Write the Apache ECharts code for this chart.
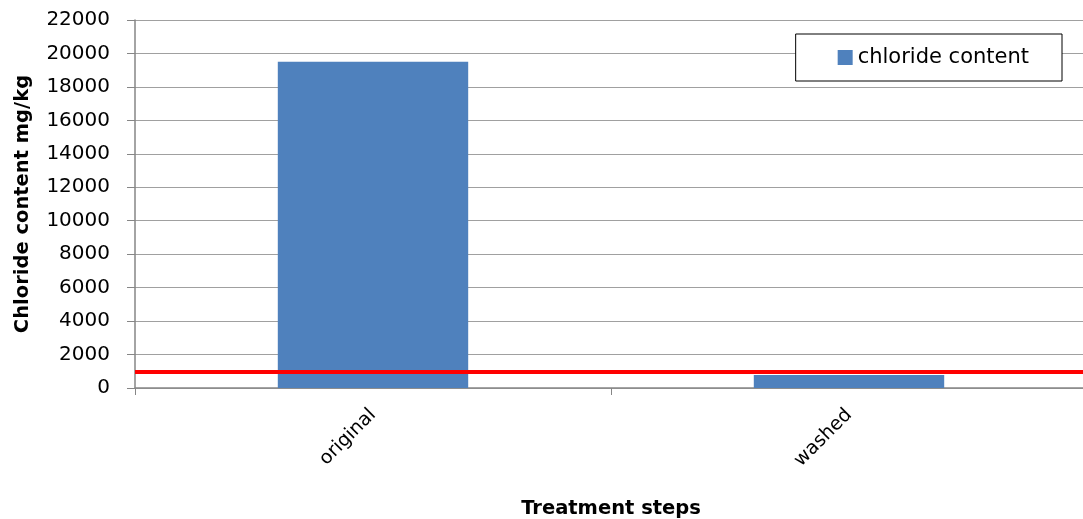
<!DOCTYPE html>
<html>
<head>
<meta charset="utf-8">
<script src="https://cdn.jsdelivr.net/npm/echarts@6/dist/echarts.min.js"></script>
<style>
  html, body { margin: 0; padding: 0; background: #fff; }
  #chart { width: 1083px; height: 519px; }
</style>
</head>
<body>
<div id="chart"></div>
<script>
// Treatment steps and measured chloride content (mg/kg)
const categories = ['original', 'washed'];
const chlorideValues = [19500, 780];
const limitValue = 1000;
const yTicks = { min: 0, max: 22000, interval: 2000 };

const font = '"DejaVu Sans", "Liberation Sans", sans-serif';
const chart = echarts.init(document.getElementById('chart'));

chart.setOption({
  animation: false,
  textStyle: { fontFamily: font },
  grid: { left: 135, right: -4, top: 20, bottom: 131, containLabel: false, outerBoundsMode: 'none' },
  legend: {
    data: ['chloride content'],
    right: 21, top: 34,
    padding: [13, 33, 13, 42],
    backgroundColor: '#fff',
    borderColor: '#000', borderWidth: 1,
    itemWidth: 15, itemHeight: 15, itemGap: 6,
    icon: 'rect',
    textStyle: { fontSize: 21, color: '#000', fontFamily: font }
  },
  xAxis: {
    type: 'category',
    data: categories,
    name: 'Treatment steps',
    nameLocation: 'middle',
    nameGap: 111,
    nameTextStyle: { fontSize: 19.5, fontWeight: 'bold', color: '#000' },
    axisLine: { lineStyle: { color: '#868686', width: 1.5 } },
    axisTick: { show: true, length: 7, alignWithLabel: false, lineStyle: { color: '#868686' } },
    axisLabel: { rotate: 45, fontSize: 19, color: '#000', margin: 24 }
  },
  yAxis: {
    type: 'value',
    min: yTicks.min, max: yTicks.max, interval: yTicks.interval,
    name: 'Chloride content mg/kg',
    nameLocation: 'middle',
    nameGap: 102,
    nameTextStyle: { fontSize: 19.5, fontWeight: 'bold', color: '#000' },
    axisLine: { show: true, lineStyle: { color: '#868686', width: 1.5 } },
    axisTick: { show: true, length: 8, lineStyle: { color: '#868686' } },
    axisLabel: { fontSize: 20, color: '#000', margin: 25, formatter: (v) => String(v) },
    splitLine: { lineStyle: { color: '#a0a0a0', width: 1.2 } }
  },
  series: [{
    name: 'chloride content',
    type: 'bar',
    data: chlorideValues,
    barWidth: '40%',
    itemStyle: { color: '#4f81bd' },
    markLine: {
      silent: true,
      symbol: 'none',
      label: { show: false },
      lineStyle: { color: '#ff0000', width: 4, type: 'solid' },
      data: [{ yAxis: limitValue }]
    }
  }]
});
</script>
</body>
</html>
